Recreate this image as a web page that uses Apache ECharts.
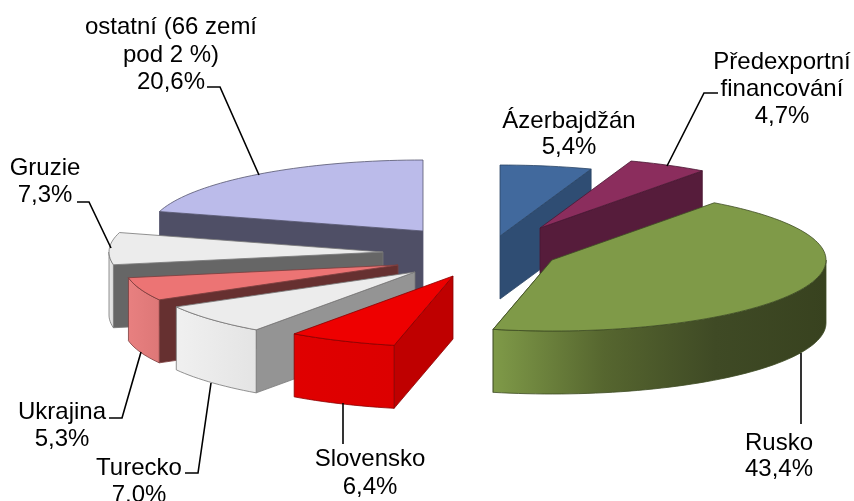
<!DOCTYPE html>
<html>
<head>
<meta charset="utf-8">
<script src="https://cdn.jsdelivr.net/npm/echarts@6/dist/echarts.min.js"></script>
<style>
html,body{margin:0;padding:0;background:#fff}
#main{width:854px;height:501px}
</style>
</head>
<body>
<div id="main"></div>
<script>
// data, clockwise from 12 o'clock
var categories = ['Ázerbajdžán', 'Předexportní\nfinancování', 'Rusko', 'Slovensko', 'Turecko', 'Ukrajina', 'Gruzie', 'ostatní (66 zemí\npod 2 %)'];
var shares = [5.4, 4.7, 43.4, 6.4, 7.0, 5.3, 7.3, 20.6];

// how far each slice is pulled out of the pie centre
var pieCenter = [460, 250];
var explode = [[40, -14], [80, -22], [92, 10], [-7, 26], [-45, 22], [-62, 15], [-77, 2], [-37, -19]];
var radiusX = 274, radiusY = 71, depth = 63;
var drawOrder = [1, 2, 8, 5, 4, 3, 2.5, 1.5]; // painter's order

var topColors = ['#41699d', '#8b2d5d', '#7f9a48', '#ee0000', '#ececec', '#ec7474', '#ececec', '#bbbbea'];
var edgeColors = ['#2b4566', '#4a1833', '#3f4d24', '#8a0000', '#777777', '#7a3c3c', '#777777', '#55556f'];
var faceColors = ['#2f4d73', '#561c3b', '#3a4220', '#bf0000', '#949494', '#663030', '#666666', '#4f4f66'];
var wallColors = [
    ['#2f4d73', '#2f4d73'], ['#561c3b', '#561c3b'],
    ['#7f9a48', '#56662f', '#3f4a25', '#38421f'],
    ['#e00000', '#dc0000'], ['#f0f0f0', '#e4e4e4'], ['#e88080', '#dd7777'],
    ['#e8e8e8', '#dddddd'], ['#4f4f66', '#4f4f66']
];

// label centres and leader lines
var labelPos = [[569, 120], [782, 61], [779, 442], [370, 458], [139, 467], [62, 411], [45, 167], [171, 26]];
var lineHeight = [26, 27, 26, 28, 26.5, 27, 27, 27.5];
var labelNudge = 1.5;
var leaders = [
    null,
    [[718, 93], [704, 93], [667, 166]],
    [[801, 353], [801, 424]],
    [[343, 403], [343, 444]],
    [[211, 383], [198, 473], [185, 473]],
    [[141, 352], [122, 418], [109, 418]],
    [[77, 202], [89, 202], [111, 248]],
    [[207, 87], [220, 87], [259, 175]]
];

var total = shares.reduce(function (a, b) { return a + b; }, 0);
var startAngles = [];
shares.reduce(function (acc, v, i) { startAngles[i] = acc; return acc + v; }, 0);

function rimPoint(apex, share, dy) {
    var t = share / total * Math.PI * 2;
    return [apex[0] + radiusX * Math.sin(t), apex[1] - radiusY * Math.cos(t) + dy];
}

function arcPoints(apex, from, to, dy) {
    var pts = [];
    var n = Math.max(2, Math.ceil((to - from) * 2));
    for (var k = 0; k <= n; k++) {
        pts.push(rimPoint(apex, from + (to - from) * k / n, dy));
    }
    return pts;
}

function gradient(stops) {
    return {
        type: 'linear', x: 0, y: 0, x2: 1, y2: 0,
        colorStops: stops.map(function (c, k) { return { offset: k / (stops.length - 1), color: c }; })
    };
}

function renderSlice(params, api) {
    var i = params.dataIndex;
    var value = api.value(0);
    var from = startAngles[i], to = from + value;
    var apex = [pieCenter[0] + explode[i][0], pieCenter[1] + explode[i][1]];
    var z = drawOrder[i] * 10;
    var children = [];
    var edge = { stroke: edgeColors[i], lineWidth: 0.8 };

    // radial cut that faces the viewer
    var cut = (from + value / 2) < total / 2 ? to : from;
    var p = rimPoint(apex, cut, 0), q = rimPoint(apex, cut, depth);
    children.push({
        type: 'polygon', z2: z,
        shape: { points: [apex, p, q, [apex[0], apex[1] + depth]] },
        style: { fill: faceColors[i], stroke: edge.stroke, lineWidth: edge.lineWidth }
    });

    // front part of the outer rim
    var a = Math.max(from, total / 4), b = Math.min(to, total * 3 / 4);
    if (b > a) {
        var rim = arcPoints(apex, a, b, 0).concat(arcPoints(apex, a, b, depth).reverse());
        children.push({
            type: 'polygon', z2: z + 1,
            shape: { points: rim },
            style: { fill: gradient(wallColors[i]), stroke: edge.stroke, lineWidth: edge.lineWidth }
        });
    }

    // top face
    children.push({
        type: 'polygon', z2: z + 2,
        shape: { points: [apex].concat(arcPoints(apex, from, to, 0)) },
        style: { fill: topColors[i], stroke: edge.stroke, lineWidth: edge.lineWidth }
    });

    // leader line
    if (leaders[i]) {
        children.push({
            type: 'polyline', z2: 200,
            shape: { points: leaders[i] },
            style: { fill: null, stroke: '#000', lineWidth: 1.6 }
        });
    }

    // label
    var lines = categories[i].split('\n');
    lines.push(value.toFixed(1).replace('.', ',') + '%');
    lines.forEach(function (t, k) {
        children.push({
            type: 'text', z2: 210,
            style: {
                text: t,
                x: labelPos[i][0],
                y: labelPos[i][1] + labelNudge + k * lineHeight[i],
                textAlign: 'center',
                textVerticalAlign: 'middle',
                font: '24px "Liberation Sans", Arial, sans-serif',
                fill: '#000'
            }
        });
    });

    return { type: 'group', children: children };
}

var myChart = echarts.init(document.getElementById('main'));
var option = {
    backgroundColor: '#fff',
    animation: false,
    series: [{
        type: 'custom',
        coordinateSystem: 'none',
        silent: true,
        renderItem: renderSlice,
        data: shares
    }]
};
myChart.setOption(option);
</script>
</body>
</html>
